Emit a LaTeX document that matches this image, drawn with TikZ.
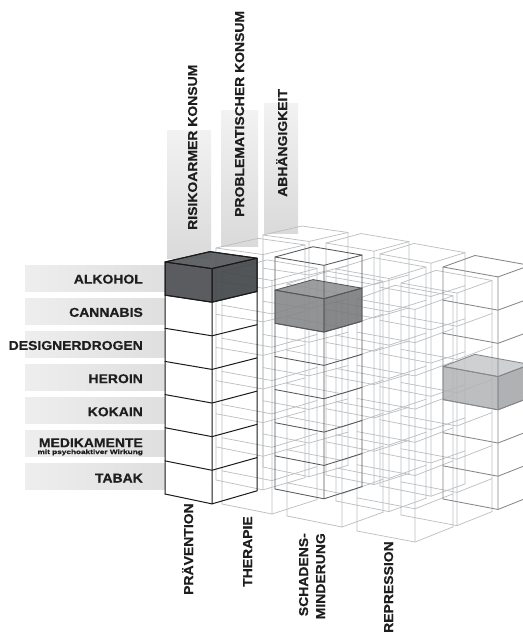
\documentclass[tikz,border=0pt]{standalone}
\usepackage{fontspec}
\usepackage{graphicx}
\setmainfont{Liberation Sans}
\newfontfamily\labfont[FakeStretch=1.09,FakeBold=0.5]{Liberation Sans}
\definecolor{lineL}{HTML}{BABEC1}
\definecolor{lineD}{HTML}{55575A}
\definecolor{lineG}{HTML}{85878A}
\definecolor{lineF}{HTML}{1A1A1A}
\definecolor{alkF}{HTML}{4C4F52}
\definecolor{alkR}{HTML}{44474A}
\definecolor{alkT}{HTML}{56595C}
\definecolor{canF}{HTML}{838587}
\definecolor{canR}{HTML}{76787A}
\definecolor{canT}{HTML}{8E9092}
\definecolor{herF}{HTML}{B1B3B5}
\definecolor{herR}{HTML}{A2A4A6}
\definecolor{herT}{HTML}{C6C8CA}
\definecolor{txt}{HTML}{1E1E1E}
\definecolor{barA}{HTML}{EEEEEE}
\definecolor{barB}{HTML}{DFDFDF}
\definecolor{barT}{HTML}{F2F2F2}
\definecolor{barD}{HTML}{DADADA}
\def\rowh{33.142857}
\newcommand\setcol[8]{\def\cx{#1}\def\cy{#2}\def\cax{#3}\def\cbx{#4}\def\csat{#5}\def\csab{#6}\def\csbt{#7}\def\csbb{#8}\mkcoords}
\newcommand\mkcoords{%
  \foreach \k in {0,...,7}{%
    \pgfmathsetmacro\myyk{\cy+\k*\rowh}%
    \pgfmathsetmacro\mysa{(\csat)+((\csab)-(\csat))*\k/7}%
    \pgfmathsetmacro\mysb{(\csbt)+((\csbb)-(\csbt))*\k/7}%
    \pgfmathsetmacro\myrx{\cx+\cax}%
    \pgfmathsetmacro\myry{\myyk+\cax*(\mysa)}%
    \pgfmathsetmacro\mybx{\myrx+\cbx}%
    \pgfmathsetmacro\myby{\myry+\cbx*(\mysb)}%
    \pgfmathsetmacro\mykx{\cx+\cbx}%
    \pgfmathsetmacro\myky{\myyk+\cbx*(\mysb)}%
    \coordinate (L\k) at (\cx,\myyk);
    \coordinate (R\k) at (\myrx,\myry);
    \coordinate (B\k) at (\mybx,\myby);
    \coordinate (K\k) at (\mykx,\myky);
  }}
\newcommand\drawcol[1]{%
  \draw[#1] (L0)--(L7) (R0)--(R7) (B0)--(B7) (L0)--(K0)--(B0);
  \foreach \k in {0,...,7}{\draw[#1] (L\k)--(R\k)--(B\k);}}
\newcommand\drawcell[5]{%
  \pgfmathtruncatemacro\rn{#1+1}%
  \fill[#2] (L#1)--(R#1)--(R\rn)--(L\rn)--cycle;
  \fill[#3] (R#1)--(B#1)--(B\rn)--(R\rn)--cycle;
  \fill[#4] (L#1)--(R#1)--(B#1)--(K#1)--cycle;
  \draw[#5] (L#1)--(R#1)--(B#1)--(K#1)--cycle (L#1)--(L\rn)--(R\rn)--(B\rn)--(B#1) (R#1)--(R\rn);}
\tikzset{
  lcol/.style={draw=lineL, line width=0.7pt},
  dcol/.style={draw=lineD, line width=0.85pt},
  gcol/.style={draw=lineG, line width=0.85pt},
  fcol/.style={draw=lineF, line width=1pt},
  lab/.style={font=\labfont\bfseries\fontsize{12.8}{14}\selectfont, text=txt, inner sep=0pt},
  vlab/.style={lab, rotate=90, anchor=base west},
  hbar/.style={left color=barA, right color=barB},
  vbar/.style={top color=barT, bottom color=barD}
}
\begin{document}
\begin{tikzpicture}[x=1pt,y=-1pt,line join=round,line cap=round]
\useasboundingbox (0,0) rectangle (522,637);
\fill[white] (0,0) rectangle (522,637);
% top label bars
\shade[vbar] (167,130) rectangle (211,258);
\shade[vbar] (221,110) rectangle (258,246);
\shade[vbar] (264,103) rectangle (298,233);
% left label bars
\foreach \k in {0,...,6}{\pgfmathsetmacro\yt{265+33.15*\k}\shade[hbar] (25,\yt) rectangle (165,\yt+26);}
% light columns
\setcol{216}{248}{47}{42}{.14}{.21}{-.23}{-.29}\drawcol{lcol}
\setcol{263}{235}{46}{39}{.14}{.21}{-.23}{-.29}\drawcol{lcol}
\setcol{326}{243}{48}{35}{.17}{.20}{-.27}{-.32}\drawcol{lcol}
\setcol{380}{254}{51}{34}{.18}{.20}{-.31}{-.36}\drawcol{lcol}
\setcol{336}{269}{53}{37}{.18}{.20}{-.31}{-.36}\drawcol{lcol}
\setcol{401}{283}{56}{35}{.18}{.19}{-.36}{-.40}\drawcol{lcol}
\setcol{222}{272}{50}{45}{.17}{.20}{-.27}{-.32}\drawcol{lcol}
\setcol{287}{284}{55}{41}{.18}{.20}{-.31}{-.36}\drawcol{lcol}
\setcol{357}{299}{58}{38}{.18}{.19}{-.36}{-.40}\drawcol{lcol}
% Therapie / problematischer Konsum column with Cannabis
\setcol{275}{257}{49}{38}{.17}{.20}{-.27}{-.32}
\drawcell{1}{canF, fill opacity=.88}{canR, fill opacity=.88}{canT, fill opacity=.88}{dcol}
\drawcol{dcol}
% Repression / Abhaengigkeit column with Heroin
\setcol{443}{267}{55}{32}{.18}{.19}{-.36}{-.40}
\drawcell{3}{herF, fill opacity=.85}{herR, fill opacity=.85}{herT, fill opacity=.85}{gcol}
\drawcol{gcol}
% front column with Alkohol
\setcol{165}{262}{47}{45}{.14}{.21}{-.23}{-.29}
\drawcell{0}{alkF, fill opacity=.92}{alkR, fill opacity=.92}{alkT, fill opacity=.92}{fcol}
\drawcol{fcol}
% left labels
\node[lab, anchor=base east] (alk) at (143,283.6) {ALKOHOL};
\node[lab, anchor=base east] (can) at (143,316.8) {CANNABIS};
\node[lab, anchor=base east] (des) at (143,349.9) {DESIGNERDROGEN};
\node[lab, anchor=base east] (her) at (143,383.1) {HEROIN};
\node[lab, anchor=base east] (kok) at (143,416.2) {KOKAIN};
\node[lab, anchor=base east] (med) at (143,447.2) {MEDIKAMENTE};
\node[anchor=base east, inner sep=0pt, text=txt] (medsub) at (143,454) {\scalebox{1.2}[1]{\labfont\bfseries\fontsize{6.3}{7}\selectfont mit psychoaktiver Wirkung}};
\node[lab, anchor=base east] (tab) at (143,482.5) {TABAK};
% top labels
\node[vlab] (risk) at (197,230) {RISIKOARMER KONSUM};
\node[vlab] (prob) at (244,217) {PROBLEMATISCHER KONSUM};
\node[vlab] (abh) at (287,197) {ABHÄNGIGKEIT};
% bottom labels
\node[vlab] (prae) at (193,595) {PRÄVENTION};
\node[vlab] (ther) at (252,587) {THERAPIE};
\node[lab, rotate=90, anchor=base east] (sch1) at (308,533) {SCHADENS-};
\node[lab, rotate=90, anchor=base east] (sch2) at (325,533) {MINDERUNG};
\node[vlab] (rep) at (393,633) {REPRESSION};
\end{tikzpicture}
\end{document}
